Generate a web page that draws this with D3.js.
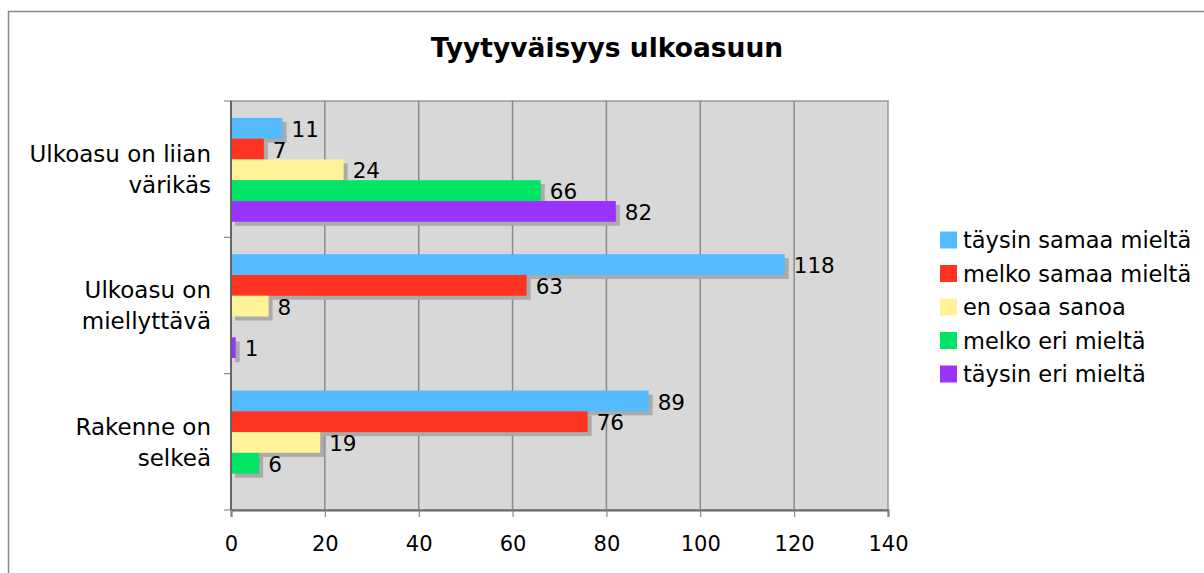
<!DOCTYPE html>
<html lang="fi">
<head>
<meta charset="UTF-8">
<title>Tyytyväisyys ulkoasuun</title>
<script src="https://d3js.org/d3.v7.min.js"></script>
<style>
  body { margin: 0; background: #fff; }
  text { font-family: "DejaVu Sans", Verdana, sans-serif; fill: #000; }
</style>
</head>
<body>
<script>
// data
var categories = [["Ulkoasu on liian", "värikäs"], ["Ulkoasu on", "miellyttävä"], ["Rakenne on", "selkeä"]];
var series = ["täysin samaa mieltä", "melko samaa mieltä", "en osaa sanoa", "melko eri mieltä", "täysin eri mieltä"];
var colors = ["#55bbff", "#ff3322", "#fff399", "#00e466", "#9933ff"];
// one row per category, one value per series (null = no bar)
var values = [
  [11, 7, 24, 66, 82],
  [118, 63, 8, null, 1],
  [89, 76, 19, 6, null]
];
var xTicks = [0, 20, 40, 60, 80, 100, 120, 140];

var W = 1204, H = 573;
var pL = 231, pR = 888, pT = 101, pB = 510;

var svg = d3.select("body").append("svg").attr("width", W).attr("height", H);

// outer frame (runs off the right and bottom edges)
svg.append("rect").attr("x", 8.5).attr("y", 11.5).attr("width", W).attr("height", H)
  .attr("fill", "none").attr("stroke", "#888").attr("stroke-width", 1.5);

svg.append("text").attr("x", 607).attr("y", 57).attr("text-anchor", "middle")
  .style("font-size", "26.5px").style("font-weight", "bold").text("Tyytyväisyys ulkoasuun");

var x = d3.scaleLinear().domain([0, 140]).range([pL, pR]);
var y = d3.scaleBand().domain(d3.range(categories.length)).range([pT, pB]);
var yInner = d3.scaleBand().domain(d3.range(series.length))
  .range([0, y.bandwidth()]).paddingOuter(0.78).align(0.52);

svg.append("rect").attr("x", pL).attr("y", pT).attr("width", pR - pL).attr("height", pB - pT)
  .attr("fill", "#d8d8d8").attr("stroke", "#999").attr("stroke-width", 1.5);

// vertical gridlines
svg.append("g").selectAll("line").data(xTicks.slice(1, -1)).enter().append("line")
  .attr("x1", function(d){ return x(d); }).attr("x2", function(d){ return x(d); })
  .attr("y1", pT).attr("y2", pB).attr("stroke", "#8a8a8a").attr("stroke-width", 1.5);

var rows = [];
values.forEach(function(r, i){
  r.forEach(function(v, j){ if (v !== null) rows.push({c: i, s: j, v: v}); });
});

var g = svg.append("g");
// shadows first
g.selectAll("rect.sh").data(rows).enter().append("rect").attr("class", "sh")
  .attr("x", x(0) + 4)
  .attr("y", function(d){ return y(d.c) + yInner(d.s) + 4; })
  .attr("width", function(d){ return x(d.v) - x(0); })
  .attr("height", yInner.bandwidth())
  .attr("fill", "#aaa");
g.selectAll("rect.bar").data(rows).enter().append("rect").attr("class", "bar")
  .attr("x", x(0))
  .attr("y", function(d){ return y(d.c) + yInner(d.s); })
  .attr("width", function(d){ return x(d.v) - x(0); })
  .attr("height", yInner.bandwidth())
  .attr("fill", function(d){ return colors[d.s]; });
g.selectAll("text.val").data(rows).enter().append("text").attr("class", "val")
  .attr("x", function(d){ return x(d.v) + 9; })
  .attr("y", function(d){ return y(d.c) + yInner(d.s) + yInner.bandwidth() / 2; })
  .attr("dy", "0.4em")
  .style("font-size", "21.5px")
  .text(function(d){ return d.v; });

// axes
var xAxis = svg.append("g").attr("transform", "translate(0," + pB + ")")
  .call(d3.axisBottom(x).tickValues(xTicks).tickSize(7).tickPadding(19));
xAxis.select(".domain").attr("stroke", "#666").attr("stroke-width", 2);
xAxis.selectAll(".tick line").attr("stroke", "#888").attr("stroke-width", 1.2);
xAxis.selectAll(".tick text").style("font-size", "21px").style("font-family", "DejaVu Sans, Verdana, sans-serif");

var yTickPos = d3.range(categories.length + 1).map(function(i){ return pT + i * y.step(); });
svg.append("g").selectAll("line").data(yTickPos).enter().append("line")
  .attr("x1", pL - 7).attr("x2", pL).attr("y1", function(d){ return d; }).attr("y2", function(d){ return d; })
  .attr("stroke", "#888").attr("stroke-width", 1.2);
svg.append("line").attr("x1", pL).attr("x2", pL).attr("y1", pT).attr("y2", pB)
  .attr("stroke", "#666").attr("stroke-width", 2);

var catLabels = svg.append("g").selectAll("text").data(categories).enter().append("text")
  .attr("text-anchor", "end").style("font-size", "23px")
  .attr("transform", function(d, i){ return "translate(211," + (y(i) + y.bandwidth() / 2) + ")"; });
catLabels.selectAll("tspan").data(function(d){ return d; }).enter().append("tspan")
  .attr("x", 0).attr("y", function(d, k){ return (k - 0.5) * 31; }).attr("dy", "0.36em")
  .text(function(d){ return d; });

// legend
var leg = svg.append("g").attr("transform", "translate(940,240)");
var li = leg.selectAll("g").data(series).enter().append("g")
  .attr("transform", function(d, i){ return "translate(0," + i * 33.5 + ")"; });
li.append("rect").attr("x", 0).attr("y", -8.5).attr("width", 17).attr("height", 17)
  .attr("fill", function(d, i){ return colors[i]; });
li.append("text").attr("x", 23).attr("dy", "0.36em").style("font-size", "22.5px")
  .text(function(d){ return d; });
</script>
</body>
</html>
